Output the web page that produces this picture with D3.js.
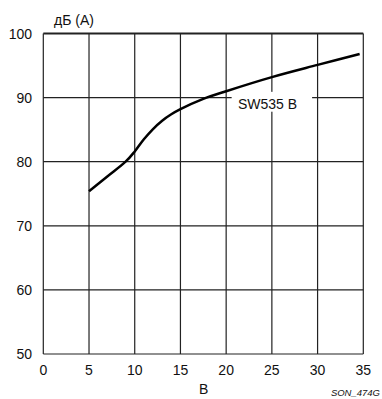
<html>
  <head>
    <meta charset="utf-8">
    <title>SW535 B</title>
    <style>
      body { margin: 0; background: #fff; }
      text { font-family: "Liberation Sans", Arial, sans-serif; fill: #111; }
    </style>
  </head>
  <body>
    <script src="https://cdn.jsdelivr.net/npm/d3@7"></script>
    <script>
      // данные кривой (напряжение, дБ(А))
      var volts = [5, 7, 9, 10, 11, 12, 13, 14, 15, 17.5, 20, 25, 30, 34.6];
      var dba = [75.4, 77.7, 80.0, 81.6, 83.5, 85.1, 86.4, 87.4, 88.2, 89.8, 91.0, 93.2, 95.1, 96.8];
      var xTicks = [0, 5, 10, 15, 20, 25, 30, 35];
      var yTicks = [50, 60, 70, 80, 90, 100];
      var seriesName = "SW535 B";

      var width = 382, height = 399;
      var pLeft = 43.3, pRight = 363.3, pTop = 33.5, pBottom = 354;

      var svg = d3.select("body").append("svg")
        .attr("width", width)
        .attr("height", height);

      var x = d3.scaleLinear().domain([0, 35]).range([pLeft, pRight]);
      var y = d3.scaleLinear().domain([50, 100]).range([pBottom, pTop]);

      // сетка
      svg.selectAll("line.vx")
        .data(xTicks)
        .enter().append("line")
        .attr("class", "vx")
        .attr("x1", function(d){ return x(d); })
        .attr("x2", function(d){ return x(d); })
        .attr("y1", pTop).attr("y2", pBottom)
        .attr("stroke", "#222").attr("stroke-width", 1.2);

      svg.selectAll("line.hy")
        .data(yTicks)
        .enter().append("line")
        .attr("class", "hy")
        .attr("x1", pLeft).attr("x2", pRight)
        .attr("y1", function(d){ return y(d); })
        .attr("y2", function(d){ return y(d); })
        .attr("stroke", "#222")
        .attr("stroke-width", function(d){ return d == 100 ? 2 : 1.2; });

      // подписи осей
      svg.selectAll("text.yt")
        .data(yTicks)
        .enter().append("text")
        .attr("class", "yt")
        .attr("x", 32)
        .attr("y", function(d){ return y(d) + 5; })
        .attr("text-anchor", "end")
        .attr("font-size", 14)
        .text(function(d){ return d; });

      svg.selectAll("text.xt")
        .data(xTicks)
        .enter().append("text")
        .attr("class", "xt")
        .attr("x", function(d){ return x(d); })
        .attr("y", 375)
        .attr("text-anchor", "middle")
        .attr("font-size", 14)
        .text(function(d){ return d; });

      svg.append("text").attr("x", 54).attr("y", 25)
        .attr("font-size", 14).text("дБ (A)");
      svg.append("text").attr("x", 199).attr("y", 394)
        .attr("font-size", 14).text("B");
      svg.append("text").attr("x", 380).attr("y", 396)
        .attr("text-anchor", "end")
        .attr("font-size", 9.5)
        .attr("font-style", "italic")
        .text("SON_474G");

      // кривая
      var line = d3.line()
        .x(function(d, i){ return x(volts[i]); })
        .y(function(d){ return y(d); })
        .curve(d3.curveCatmullRom.alpha(0.5));

      svg.append("path")
        .attr("d", line(dba))
        .attr("fill", "none")
        .attr("stroke", "#000")
        .attr("stroke-width", 2.5);

      // подпись серии с белым фоном
      svg.append("rect")
        .attr("x", x(20.6)).attr("y", y(90.9))
        .attr("width", x(29.4) - x(20.6))
        .attr("height", y(87.8) - y(90.9))
        .attr("fill", "#fff");
      svg.append("text")
        .attr("x", 238).attr("y", 109)
        .attr("font-size", 14)
        .text(seriesName);
    </script>
  </body>
</html>
